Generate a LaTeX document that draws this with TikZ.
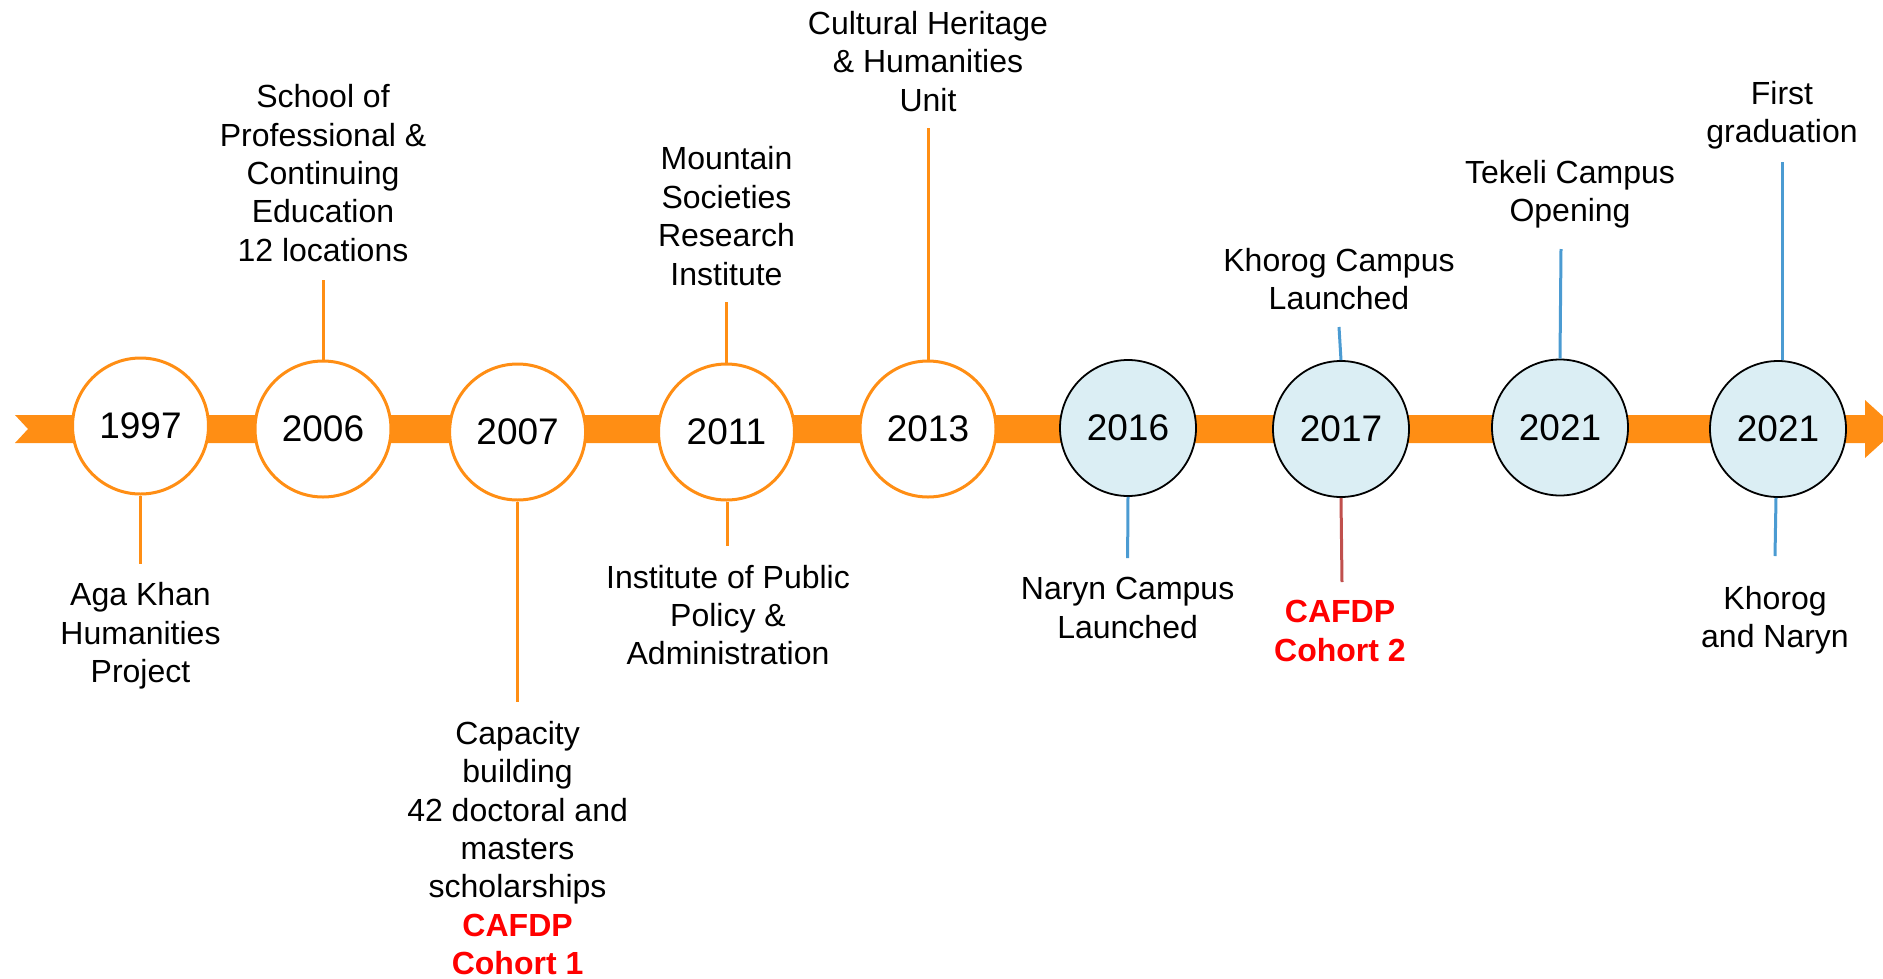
\documentclass[tikz,border=0pt]{standalone}
\usepackage{fontspec}
\setmainfont{Liberation Sans}
\definecolor{tlorange}{RGB}{255,142,20}
\definecolor{tlblue}{RGB}{75,155,210}
\definecolor{tlred}{RGB}{192,80,77}
\definecolor{tlfill}{RGB}{219,238,244}
\definecolor{tlredtext}{RGB}{255,0,0}
\begin{document}
\begin{tikzpicture}[x=1pt,y=-1pt,
  yearo/.style={circle,draw=tlorange,line width=3pt,fill=white,minimum size=136pt,inner sep=0pt,font=\fontsize{37}{40}\selectfont},
  yearb/.style={circle,draw=black,line width=1.8pt,fill=tlfill,minimum size=136pt,inner sep=0pt,font=\fontsize{37}{40}\selectfont},
  lbl/.style={align=center,font=\fontsize{32}{38.4}\selectfont,inner sep=0pt},
  olink/.style={draw=tlorange,line width=3pt},
  blink/.style={draw=tlblue,line width=3pt},
  rlink/.style={draw=tlred,line width=3pt},
  redtxt/.style={text=tlredtext}
]
\useasboundingbox (0,0) rectangle (1883,978);
\clip (0,0) rectangle (1883,978);
% band
\fill[tlorange] (15,415) -- (1865,415) -- (1865,400) -- (1897,429) -- (1865,458) -- (1865,443) -- (15,443) -- (28,429) -- cycle;
% circles
\node[yearo] (c1997) at (140.5,426) {1997};
\node[yearo] (c2006) at (323,429) {2006};
\node[yearo] (c2007) at (517.6,432) {2007};
\node[yearo] (c2011) at (726.5,432) {2011};
\node[yearo] (c2013) at (928,429) {2013};
\node[yearb] (c2016) at (1128,428) {2016};
\node[yearb] (c2017) at (1341,429) {2017};
\node[yearb] (c2021a) at (1560,427.5) {2021};
\node[yearb] (c2021b) at (1778,429) {2021};
% connector ends
\coordinate (e1997) at (140.5,564);
\coordinate (e2006) at (323,280);
\coordinate (e2007) at (517.6,702);
\coordinate (e2011t) at (726.5,302);
\coordinate (e2011b) at (727.5,546);
\coordinate (e2013) at (928,128);
\coordinate (e2016) at (1127.6,558);
\coordinate (e2017t) at (1339,327);
\coordinate (e2017b) at (1342,582);
\coordinate (e2021a) at (1561,249);
\coordinate (e2021bt) at (1782,162);
\coordinate (e2021bb) at (1775,556);
% connectors
\draw[olink] (c1997.south) -- (e1997);
\draw[olink] (c2006.north) -- (e2006);
\draw[olink] (c2007.south) -- (e2007);
\draw[olink] (c2011.north) -- (e2011t);
\draw[olink] ([xshift=1pt]c2011.south) -- (e2011b);
\draw[olink] (c2013.north) -- (e2013);
\draw[blink] (c2016.south) -- (e2016);
\draw[blink] (c2017.north) -- (e2017t);
\draw[rlink] (c2017.south) -- (e2017b);
\draw[blink] (c2021a.north) -- (e2021a);
\draw[blink] ([xshift=4pt]c2021b.north) -- (e2021bt);
\draw[blink] ([xshift=-2pt]c2021b.south) -- (e2021bb);
% labels
\node[lbl] (t1997) at (140.5,636) {Aga Khan\\Humanities\\Project};
\node[lbl] (t2006) at (323,173) {School of\\Professional \&\\Continuing\\Education\\12 locations};
\node[lbl] (t2007) at (517.6,848) {Capacity\\building\\42 doctoral and\\masters\\scholarships\\\textcolor{tlredtext}{\bfseries CAFDP}\\\textcolor{tlredtext}{\bfseries Cohort 1}};
\node[lbl] (t2011t) at (726.5,216) {Mountain\\Societies\\Research\\Institute};
\node[lbl] (t2011b) at (728,615) {Institute of Public\\Policy \&\\Administration};
\node[lbl] (t2013) at (928,61.5) {Cultural Heritage\\\& Humanities\\Unit};
\node[lbl] (t2016) at (1127.6,608) {Naryn Campus\\Launched};
\node[lbl] (t2017t) at (1339,279) {Khorog Campus\\Launched};
\node[lbl,redtxt,font=\fontsize{32}{38.4}\selectfont\bfseries] (t2017b) at (1340,631) {CAFDP\\Cohort 2};
\node[lbl] (t2021a) at (1570,194) {Tekeli Campus\\Opening};
\node[lbl] (t2021bt) at (1782,115) {First\\graduation};
\node[lbl] (t2021bb) at (1775,620) {Khorog\\and Naryn};
\end{tikzpicture}
\end{document}
